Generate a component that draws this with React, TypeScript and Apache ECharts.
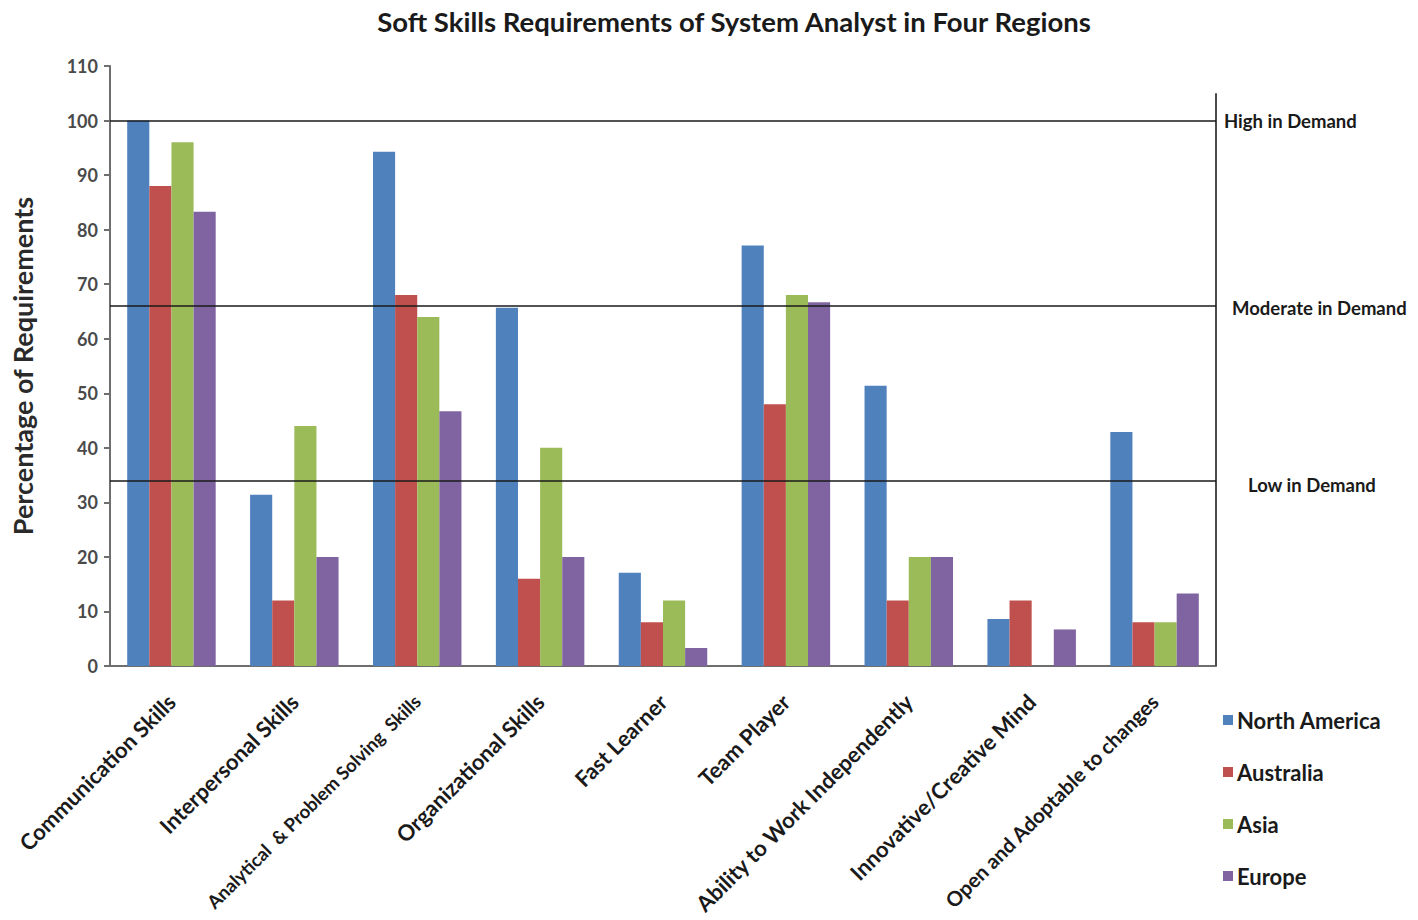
import React, { useEffect, useRef } from "react";
import * as echarts from "echarts";

const categories = [
  "Communication Skills",
  "Interpersonal Skills",
  "Analytical  & Problem Solving  Skills",
  "Organizational Skills",
  "Fast Learner",
  "Team Player",
  "Ability to Work Independently",
  "Innovative/Creative Mind",
  "Open and Adoptable to changes",
];
const categoryLabelSizes = [22, 22, 18.5, 22, 22, 22, 22, 22, 20.5];

const northAmerica = [100, 31.4, 94.3, 65.7, 17.1, 77.1, 51.4, 8.6, 42.9];
const australia = [88, 12, 68, 16, 8, 48, 12, 12, 8];
const asia = [96, 44, 64, 40, 12, 68, 20, 0, 8];
const europe = [83.3, 20, 46.7, 20, 3.3, 66.7, 20, 6.7, 13.3];

const seriesNames = ["North America", "Australia", "Asia", "Europe"];
const seriesColors = ["#4F81BD", "#C0504D", "#9BBB59", "#8064A2"];

const demandLevels = [100, 66, 34];
const demandLabels = ["High in Demand", "Moderate in Demand", "Low in Demand"];
const demandLabelOffsets = [
  [8, 0],
  [16, 2],
  [32, 4],
];
const rightBorderTop = 105;

const FONT = "Lato, 'Open Sans', sans-serif";

export default function App() {
  const ref = useRef<HTMLDivElement>(null);

  useEffect(() => {
    document.body.style.margin = "0";
    if (!ref.current) return;
    const chart = echarts.init(ref.current, undefined, { renderer: "svg" });
    const values = [northAmerica, australia, asia, europe];

    const barSeries = values.map((data, i) => ({
      name: seriesNames[i],
      type: "bar",
      data,
      barGap: "0%",
      barCategoryGap: "28%",
      itemStyle: { color: seriesColors[i] },
      ...(i === 0
        ? {
            markLine: {
              silent: true,
              symbol: "none",
              lineStyle: { color: "#1a1a1a", width: 1.6, type: "solid" },
              data: demandLevels.map((v, k) => ({
                yAxis: v,
                label: {
                  show: true,
                  position: "end",
                  formatter: demandLabels[k],
                  distance: 0,
                  offset: demandLabelOffsets[k],
                  color: "#1a1a1a",
                  fontFamily: FONT,
                  fontWeight: "bold",
                  fontSize: 18.5,
                  align: "left",
                },
              })),
            },
          }
        : {}),
    }));

    chart.setOption({
      animation: false,
      backgroundColor: "#ffffff",
      title: {
        text: "Soft Skills Requirements of System Analyst in Four Regions",
        left: 729,
        textAlign: "center",
        top: 2,
        textStyle: {
          fontFamily: FONT,
          fontWeight: "bold",
          fontSize: 27.5,
          color: "#1a1a1a",
        },
      },
      legend: {
        data: seriesNames,
        orient: "vertical",
        left: 1218,
        top: 702,
        itemWidth: 10,
        itemHeight: 10,
        itemGap: 26,
        icon: "rect",
        textStyle: {
          fontFamily: FONT,
          fontWeight: "bold",
          fontSize: 22,
          lineHeight: 26,
          color: "#1a1a1a",
          padding: [0, 0, 0, -1],
        },
      },
      grid: {
        left: 110,
        right: 202,
        top: 66,
        bottom: 254,
        containLabel: false,
        outerBoundsMode: "none",
      },
      xAxis: [
        {
          type: "category",
          data: categories.map((c, i) => ({
            value: c,
            textStyle: {
              fontSize: categoryLabelSizes[i],
              fontWeight: "bold",
              fontFamily: FONT,
              color: "#1a1a1a",
            },
          })),
          axisLine: { lineStyle: { color: "#6e6e6e", width: 2 } },
          axisTick: { show: false },
          axisLabel: {
            rotate: 45,
            interval: 0,
            margin: 32,
            fontFamily: FONT,
            fontWeight: "bold",
            fontSize: 22,
            color: "#1a1a1a",
          },
        },
        {
          type: "value",
          min: 0,
          max: 1,
          show: false,
        },
      ],
      yAxis: {
        type: "value",
        min: 0,
        max: 110,
        interval: 10,
        name: "Percentage of Requirements",
        nameLocation: "middle",
        nameRotate: 90,
        nameGap: 74,
        nameTextStyle: {
          fontFamily: FONT,
          fontWeight: "bold",
          fontSize: 27,
          color: "#2a2a2a",
        },
        axisLine: { show: true, lineStyle: { color: "#6e6e6e", width: 2 } },
        axisTick: { show: true, length: 6, lineStyle: { color: "#6e6e6e", width: 2 } },
        splitLine: { show: false },
        axisLabel: {
          margin: 12,
          fontFamily: FONT,
          fontWeight: "bold",
          fontSize: 18,
          color: "#4a4a4a",
        },
      },
      series: [
        ...barSeries,
        {
          name: "border",
          type: "line",
          xAxisIndex: 1,
          yAxisIndex: 0,
          data: [
            [1, 0],
            [1, rightBorderTop],
          ],
          symbol: "none",
          clip: false,
          silent: true,
          lineStyle: { color: "#4a4a4a", width: 2 },
        },
      ],
    });

    return () => chart.dispose();
  }, []);

  return <div ref={ref} style={{ width: 1418, height: 920 }} />;
}
